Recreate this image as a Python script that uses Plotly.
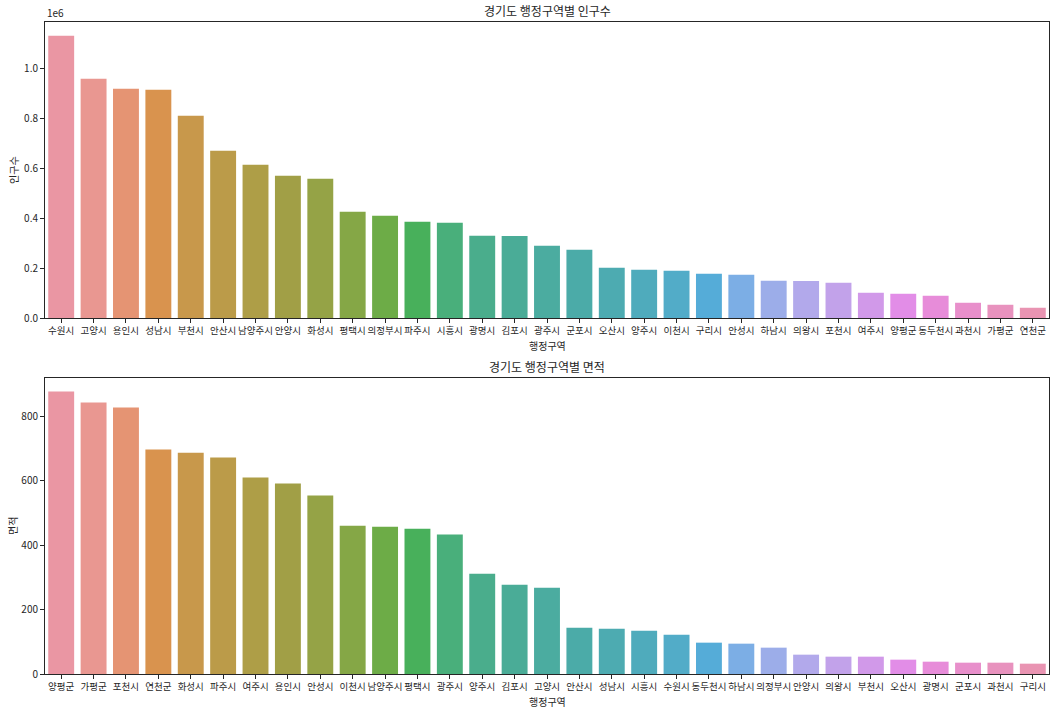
import math
import colorsys
import plotly.graph_objects as go

# ---------------- data ----------------
pop_regions = ["수원시", "고양시", "용인시", "성남시", "부천시", "안산시", "남양주시", "안양시",
               "화성시", "평택시", "의정부시", "파주시", "시흥시", "광명시", "김포시", "광주시",
               "군포시", "오산시", "양주시", "이천시", "구리시", "안성시", "하남시", "의왕시",
               "포천시", "여주시", "양평군", "동두천시", "과천시", "가평군", "연천군"]
pop_values = [1129000, 957000, 917000, 913000, 809000, 669000, 613000, 569000,
              557000, 425000, 409000, 385000, 381000, 329000, 328000, 289000,
              273000, 201000, 193000, 189000, 177000, 173000, 149000, 148000,
              141000, 101000, 97000, 89000, 61000, 53000, 41000]

area_regions = ["양평군", "가평군", "포천시", "연천군", "화성시", "파주시", "여주시", "용인시",
                "안성시", "이천시", "남양주시", "평택시", "광주시", "양주시", "김포시", "고양시",
                "안산시", "성남시", "시흥시", "수원시", "동두천시", "하남시", "의정부시", "안양시",
                "의왕시", "부천시", "오산시", "광명시", "군포시", "과천시", "구리시"]
area_values = [877.7, 843.5, 828.0, 697.4, 688.0, 672.5, 610.4, 591.7,
               554.4, 461.1, 458.0, 451.8, 433.2, 311.9, 277.7, 268.4,
               144.0, 140.9, 134.7, 122.3, 97.4, 94.3, 81.9, 60.1,
               53.9, 53.9, 44.6, 38.3, 35.2, 35.2, 32.1]

pop_ticks = [0, 200000, 400000, 600000, 800000, 1000000]
pop_ticklabels = ["0.0", "0.2", "0.4", "0.6", "0.8", "1.0"]
area_ticks = [0, 200, 400, 600, 800]

# ---------------- husl palette (seaborn style) ----------------
M = [[3.2406, -1.5372, -0.4986], [-0.9689, 1.8758, 0.0415], [0.0557, -0.2040, 1.0570]]
REF_U, REF_V = 0.19784, 0.46834
KAPPA, EPS = 903.2963, 0.0088564


def max_chroma(L, H):
    hrad = math.radians(H)
    sinH, cosH = math.sin(hrad), math.cos(hrad)
    sub1 = (L + 16) ** 3 / 1560896.0
    sub2 = sub1 if sub1 > EPS else L / KAPPA
    res = float("inf")
    for m1, m2, m3 in M:
        top = (0.99915 * m1 + 1.05122 * m2 + 1.14460 * m3) * sub2
        rb = 0.86330 * m3 - 0.17266 * m2
        lb = 0.12949 * m3 - 0.38848 * m1
        bottom = (rb * sinH + lb * cosH) * sub2
        for t in (0.0, 1.0):
            C = L * (top - 1.05122 * t) / (bottom + 0.17266 * sinH * t)
            if 0 < C < res:
                res = C
    return res


def f_inv(t):
    return t ** 3 if t ** 3 > EPS else (116 * t - 16) / KAPPA


def from_linear(c):
    return 12.92 * c if c <= 0.0031308 else 1.055 * c ** (1 / 2.4) - 0.055


def husl_to_rgb(H, S, L):
    C = max_chroma(L, H) / 100.0 * S
    hrad = math.radians(H)
    U, V = math.cos(hrad) * C, math.sin(hrad) * C
    varY = f_inv((L + 16) / 116.0)
    varU = U / (13 * L) + REF_U
    varV = V / (13 * L) + REF_V
    Y = varY
    X = -(9 * Y * varU) / ((varU - 4) * varV - varU * varV)
    Z = (9 * Y - 15 * varV * Y - varV * X) / (3 * varV)
    rgb = [from_linear(r[0] * X + r[1] * Y + r[2] * Z) for r in M]
    return [min(1, max(0, c)) for c in rgb]


def palette(n, s=0.9, l=0.7, sat=0.75):
    out = []
    for i in range(n):
        h = ((i / n) + 0.01) % 1 * 359
        r, g, b = husl_to_rgb(h, s * 99, l * 99)
        hh, ll, ss = colorsys.rgb_to_hls(r, g, b)
        r, g, b = colorsys.hls_to_rgb(hh, ll, ss * sat)
        out.append("rgb(%d,%d,%d)" % (round(r * 255), round(g * 255), round(b * 255)))
    return out


colors = palette(len(pop_regions))

# ---------------- figure ----------------
FONT = "Noto Sans CJK KR"
TXT = "#262626"

fig = go.Figure()
fig.add_trace(go.Bar(x=pop_regions, y=pop_values, marker=dict(color=colors, line=dict(width=0)),
                     xaxis="x", yaxis="y", width=0.8))
fig.add_trace(go.Bar(x=area_regions, y=area_values, marker=dict(color=colors, line=dict(width=0)),
                     xaxis="x2", yaxis="y2", width=0.8))

axis_common = dict(showline=True, mirror=True, linecolor=TXT, linewidth=1,
                   ticks="outside", ticklen=4, tickcolor=TXT, tickwidth=1,
                   showgrid=False, zeroline=False, automargin=False)
xfont = dict(family=FONT, size=9.5, color=TXT)
yfont = dict(family=FONT, size=10, color=TXT)

fig.update_layout(
    width=1056, height=712,
    margin=dict(l=45, r=7, t=22, b=38),
    paper_bgcolor="white", plot_bgcolor="white",
    showlegend=False,
    font=dict(family=FONT, color=TXT),
    xaxis=dict(domain=[0, 1], anchor="y", range=[-0.5, 30.5], type="category",
               tickangle=0, tickfont=xfont, **axis_common),
    yaxis=dict(domain=[0.546, 1], anchor="x", range=[0, 1184000],
               tickvals=pop_ticks, ticktext=pop_ticklabels, tickfont=yfont, **axis_common),
    xaxis2=dict(domain=[0, 1], anchor="y2", range=[-0.5, 30.5], type="category",
                tickangle=0, tickfont=xfont, **axis_common),
    yaxis2=dict(domain=[0, 0.454], anchor="x2", range=[0, 920],
                tickvals=area_ticks, tickfont=yfont, **axis_common),
)

ann = [
    dict(text="경기도 행정구역별 인구수", xref="x domain", yref="y domain", x=0.5, y=1,
         yanchor="bottom", yshift=1, showarrow=False, font=dict(size=12)),
    dict(text="경기도 행정구역별 면적", xref="x2 domain", yref="y2 domain", x=0.5, y=1,
         yanchor="bottom", yshift=1, showarrow=False, font=dict(size=12)),
    dict(text="1e6", xref="x domain", yref="y domain", x=0, y=1, xanchor="left",
         yanchor="bottom", yshift=0, showarrow=False, font=dict(size=10)),
    dict(text="행정구역", xref="x domain", yref="y domain", x=0.5, y=0, yanchor="top",
         yshift=-18, showarrow=False, font=dict(size=10)),
    dict(text="행정구역", xref="x2 domain", yref="y2 domain", x=0.5, y=0, yanchor="top",
         yshift=-18, showarrow=False, font=dict(size=10)),
    dict(text="인구수", xref="paper", yref="y domain", x=0, xshift=-32, y=0.5,
         xanchor="center", yanchor="middle",
         textangle=-90, showarrow=False, font=dict(size=10)),
    dict(text="면적", xref="paper", yref="y2 domain", x=0, xshift=-32, y=0.5,
         xanchor="center", yanchor="middle",
         textangle=-90, showarrow=False, font=dict(size=10)),
]
fig.update_layout(annotations=ann)

fig.write_html("out.html", config={"displayModeBar": False},
               post_script="document.body.style.margin='0';")
